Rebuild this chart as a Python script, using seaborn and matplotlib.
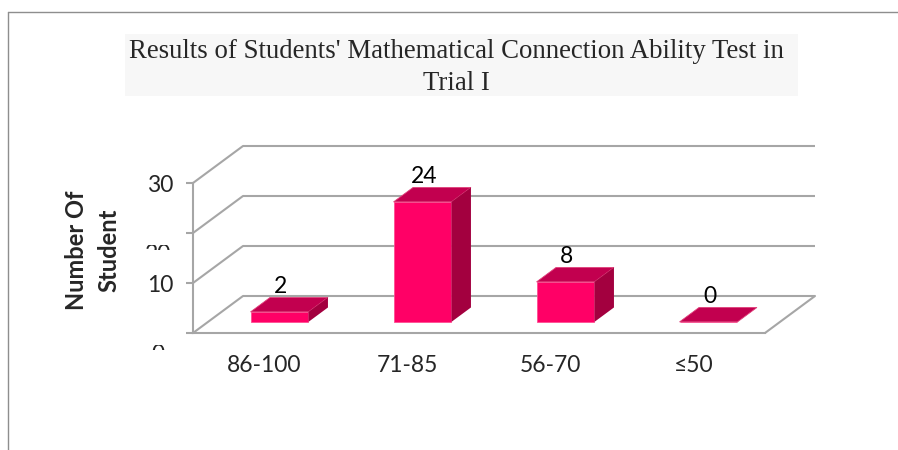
import matplotlib
matplotlib.use("Agg")
import matplotlib.pyplot as plt
import seaborn as sns
import pandas as pd
from matplotlib.patches import Polygon, Rectangle
from matplotlib.lines import Line2D
from matplotlib.transforms import Bbox

# ---- data ----
categories = ["86-100", "71-85", "56-70", "≤50"]
values = [2, 24, 8, 0]
ytick_values = [0, 10, 20, 30]
ytick_labels = ["0", "10", "20", "30"]
clipped_ticks = [0, 20]  # labels only partly visible in the original
title_line1 = "Results of Students' Mathematical Connection Ability Test in"
title_line2 = "Trial I"
ylabel = "Number Of\nStudent"

sns.set_style("white")
plt.rcParams['font.family'] = ['Lato', 'DejaVu Sans']

W, H = 898, 450
fig = plt.figure(figsize=(W / 100, H / 100), dpi=100)

# frame of the chart area
fig.add_artist(Line2D([8 / W, 1.0], [1 - 12 / H, 1 - 12 / H], color="#8e8e8e", lw=1.0))
fig.add_artist(Line2D([8 / W, 8 / W], [0, 1 - 12 / H], color="#8e8e8e", lw=1.0))

# title box
fig.add_artist(Rectangle((125 / W, 1 - 96 / H), (798 - 125) / W, 62 / H,
                         transform=fig.transFigure, facecolor="#f7f7f7",
                         edgecolor="none", zorder=0))
fig.text(456 / W, 1 - 52 / H, title_line1, ha="center", va="center",
         family="Liberation Serif", fontsize=19.3, color="#262626")
fig.text(456 / W, 1 - 83 / H, title_line2, ha="center", va="center",
         family="Liberation Serif", fontsize=19.3, color="#262626")

# axes = front plane of the 3D box
ax = fig.add_axes([193 / W, (H - 333) / H, 572 / W, 150 / H])
df = pd.DataFrame({"cat": categories, "val": values})
sns.barplot(data=df, x="cat", y="val", color="#FF0066", saturation=1,
            width=0.405, ax=ax, zorder=3, edgecolor="#ff4d94", linewidth=0.6)
ax.set_xlim(-0.5, 3.5)
ax.set_ylim(0, 30)

# depth vector in data units (50 px right, 37 px up)
Dx, Dy = 50 / 143, 37 / 5
f_front, f_back = 0.30, 0.69
grid_c = "#a6a6a6"
lw = 1.5

# back wall gridlines and left wall diagonals
for v in ytick_values:
    ax.plot([-0.5 + Dx, 3.5 + Dx], [v + Dy, v + Dy], color=grid_c, lw=lw,
            clip_on=False, zorder=1, solid_capstyle="butt")
    ax.plot([-0.5, -0.5 + Dx], [v, v + Dy], color=grid_c, lw=lw,
            clip_on=False, zorder=1)
# floor right edge
ax.plot([3.5, 3.5 + Dx], [0, Dy], color=grid_c, lw=lw, clip_on=False, zorder=1)

# 3D bars
top_c, side_c = "#C2004F", "#A3003F"
bDx, bDy = (f_back - f_front) * Dx, (f_back - f_front) * Dy
for p, v in zip(ax.patches, values):
    p.set_x(p.get_x() + f_front * Dx)
    p.set_y(p.get_y() + f_front * Dy)
    p.set_clip_on(False)
    x0, y0 = p.get_x(), p.get_y()
    x1, h = x0 + p.get_width(), y0 + p.get_height()
    top = Polygon([(x0, h), (x1, h), (x1 + bDx, h + bDy), (x0 + bDx, h + bDy)],
                  closed=True, facecolor=top_c, edgecolor="#e0407a", lw=0.6,
                  zorder=3, clip_on=False)
    side = Polygon([(x1, y0), (x1 + bDx, y0 + bDy), (x1 + bDx, h + bDy), (x1, h)],
                   closed=True, facecolor=side_c, edgecolor="none", zorder=3,
                   clip_on=False)
    ax.add_patch(top)
    ax.add_patch(side)
    ax.annotate(str(v), xy=((x0 + x1) / 2, h + bDy), xytext=(1, 8),
                textcoords="offset points", ha="center", va="center",
                fontsize=16.5, color="black", zorder=5, annotation_clip=False)

# axes styling
sns.despine(ax=ax, top=True, right=True)
for s in ["left", "bottom"]:
    ax.spines[s].set_color(grid_c)
    ax.spines[s].set_linewidth(lw)
ax.set_xticks(range(len(categories)))
ax.set_xticklabels(categories, fontsize=16.5)
ax.tick_params(axis="x", length=0, pad=16)
ax.set_yticks(ytick_values)
ax.set_yticklabels([l if t not in clipped_ticks else "" for t, l in zip(ytick_values, ytick_labels)],
                   fontsize=16.5)
ax.tick_params(axis="y", length=5, width=lw, color=grid_c, pad=9, left=True)
ax.set_xlabel("")
ax.set_ylabel("")
ax.patch.set_alpha(0)

# partly hidden tick labels (only their tops show)
for t, l in zip(ytick_values, ytick_labels):
    if t in clipped_ticks:
        txt = ax.annotate(l, xy=(-0.5, t), xytext=(-25, -15.5),
                          textcoords="offset points", ha="center", va="center",
                          fontsize=16.5, annotation_clip=False)
        xd, yd = ax.transData.transform((-0.5, t))
        txt.set_clip_box(Bbox.from_extents(xd - 60, yd - 16.5, xd, yd - 12))
        txt.set_clip_on(True)

fig.text(93 / W, 1 - 250 / H, ylabel, rotation=90, ha="center", va="center",
         fontsize=17, fontweight="bold", linespacing=1.5)

fig.savefig("out.png", dpi=100)
